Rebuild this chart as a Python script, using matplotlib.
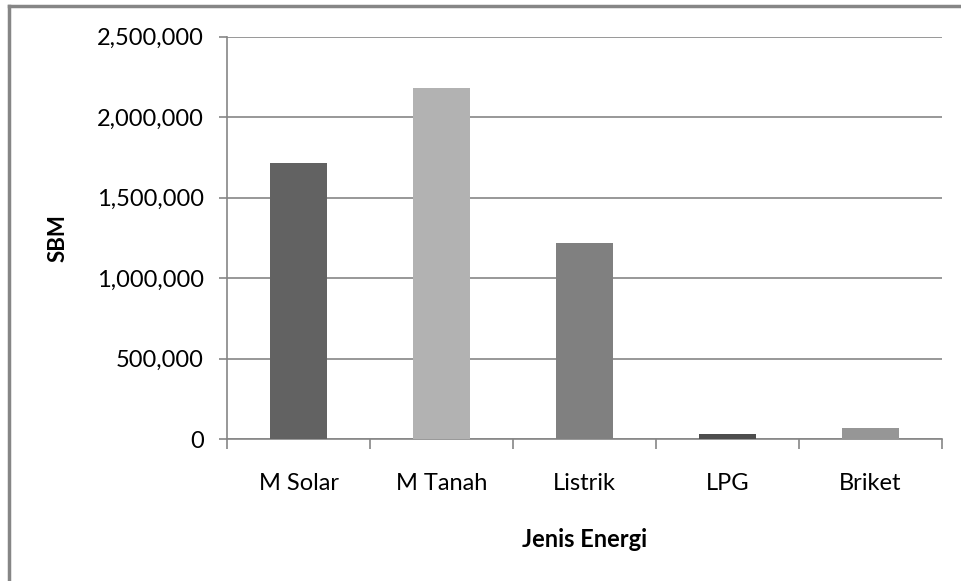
import matplotlib.pyplot as plt
import numpy as np
from matplotlib.lines import Line2D
from matplotlib.ticker import FuncFormatter

plt.rcParams['font.family'] = ['Lato', 'DejaVu Sans']

# data
categories = ['M Solar', 'M Tanah', 'Listrik', 'LPG', 'Briket']
sbm = [1714000, 2180000, 1219000, 35000, 70000]
bar_colors = ['#626262', '#b2b2b2', '#808080', '#4d4d4d', '#969696']

fig = plt.figure(figsize=(9.62, 5.81), dpi=100)
ax = fig.add_axes([0.2363, 0.2439, 0.9789 - 0.2363, 0.9368 - 0.2439])

x = np.arange(len(categories))
ax.bar(x, sbm, width=0.4, color=bar_colors, zorder=3)

ax.set_xlim(-0.5, len(categories) - 0.5)
ax.set_ylim(0, 2500000)
ax.set_yticks(np.arange(0, 2500001, 500000))
ax.yaxis.set_major_formatter(FuncFormatter(lambda v, p: f'{int(v):,}'))
ax.grid(axis='y', color='#868686', linewidth=1.2, zorder=0)

ax.set_xticks(x)
ax.set_xticklabels(categories)
ax.set_xticks(np.arange(-0.5, len(categories)), minor=True)
ax.tick_params(axis='x', which='major', length=0, pad=24, labelsize=17)
ax.tick_params(axis='x', which='minor', length=7, width=1.2, color='#868686')
ax.tick_params(axis='y', length=6, width=1.2, color='#868686', pad=11, labelsize=17)

for s in ['top', 'right']:
    ax.spines[s].set_visible(False)
for s in ['left', 'bottom']:
    ax.spines[s].set_color('#868686')
    ax.spines[s].set_linewidth(1.2)

ax.set_ylabel('SBM', fontsize=16, fontweight='bold', labelpad=20)
ax.set_xlabel('Jenis Energi', fontsize=17, fontweight='bold', labelpad=25)

# outer chart border (left and top edges visible)
fig.add_artist(Line2D([0.0094, 0.0094], [0, 0.99], transform=fig.transFigure,
                      color='#868686', linewidth=2.5))
fig.add_artist(Line2D([0.0094, 1.0], [0.99, 0.99], transform=fig.transFigure,
                      color='#868686', linewidth=2.5))

fig.savefig('out.png', dpi=100)
